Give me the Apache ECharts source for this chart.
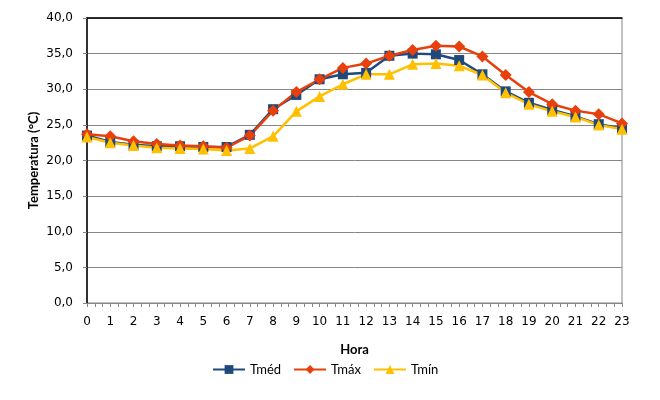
<!DOCTYPE html>
<html lang="pt">
<head>
    <meta charset="UTF-8"/>
    <title>Temperatura horária</title>
    <script src="https://cdn.jsdelivr.net/npm/echarts@6/dist/echarts.min.js"></script>
    <style>
        html, body { margin: 0; padding: 0; background: #fff; }
        #chart { width: 660px; height: 400px; }
    </style>
</head>
<body>
<div id="chart"></div>
<script type="text/javascript">
    // dados (hora 0..23)
    var horas = [0, 1, 2, 3, 4, 5, 6, 7, 8, 9, 10, 11, 12, 13, 14, 15, 16, 17, 18, 19, 20, 21, 22, 23];
    var tmed = [23.5, 22.6, 22.2, 22.0, 22.0, 21.9, 21.9, 23.6, 27.2, 29.2, 31.4, 32.1, 32.3, 34.7, 35.0, 34.9, 34.1, 32.1, 29.7, 28.1, 27.1, 26.2, 25.1, 24.5];
    var tmax = [23.7, 23.4, 22.7, 22.3, 22.1, 22.0, 21.8, 23.5, 27.0, 29.6, 31.4, 33.0, 33.6, 34.7, 35.5, 36.1, 36.0, 34.6, 32.0, 29.6, 27.9, 27.0, 26.5, 25.2];
    var tmin = [23.3, 22.5, 22.1, 21.8, 21.7, 21.6, 21.4, 21.7, 23.4, 26.9, 29.0, 30.7, 32.1, 32.1, 33.5, 33.6, 33.3, 32.0, 29.5, 27.9, 26.9, 26.1, 25.0, 24.4];
    var serieNomes = ['Tméd', 'Tmáx', 'Tmín'];

    function pares(vals) {
        return horas.map(function (h, i) { return [h, vals[i]]; });
    }

    var myChart = echarts.init(document.getElementById('chart'));
    var option = {
        animation: false,
        textStyle: { fontFamily: 'DejaVu Sans' },
        grid: {
            left: 87, right: 38, top: 18, bottom: 97,
            show: true, borderColor: '#868686', borderWidth: 1
        },
        legend: {
            data: serieNomes,
            top: 358,
            left: 207,
            itemWidth: 32,
            itemHeight: 11,
            itemGap: 12,
            textStyle: { fontFamily: 'Lato', fontSize: 13, color: '#000' }
        },
        xAxis: [{
            type: 'value',
            min: 0, max: 23, interval: 1,
            name: 'Hora',
            nameLocation: 'middle',
            nameGap: 40,
            nameTextStyle: { fontFamily: 'Lato', fontWeight: 'bold', fontSize: 13, color: '#000' },
            axisLine: { lineStyle: { color: '#868686', width: 1 } },
            axisTick: { show: true, length: 4, lineStyle: { color: '#868686' } },
            minorTick: { show: true, splitNumber: 3, length: 4, lineStyle: { color: '#868686' } },
            splitLine: { show: false },
            axisLabel: { fontSize: 12, color: '#000', margin: 13 }
        }, {
            type: 'value',
            position: 'top',
            min: 0, max: 23,
            axisLine: { show: true, lineStyle: { color: '#000', width: 1.5 } },
            axisTick: { show: false },
            axisLabel: { show: false },
            splitLine: { show: false }
        }],
        yAxis: {
            type: 'value',
            min: 0, max: 40, interval: 5,
            name: 'Temperatura (°C)',
            nameLocation: 'middle',
            nameGap: 47,
            nameMoveOverlap: false,
            nameTextStyle: { fontFamily: 'Lato', fontWeight: 'bold', fontSize: 13, color: '#000' },
            axisLine: { show: true, lineStyle: { color: '#000', width: 1.5 } },
            axisTick: { show: true, length: 4, lineStyle: { color: '#868686' } },
            splitLine: { lineStyle: { color: '#868686', width: 1 } },
            axisLabel: {
                fontSize: 12, color: '#000', margin: 14,
                formatter: function (v) { return v.toFixed(1).replace('.', ','); }
            }
        },
        series: [{
            name: serieNomes[0],
            type: 'line',
            data: pares(tmed),
            symbol: 'rect',
            symbolSize: 10,
            lineStyle: { color: '#1F497D', width: 2.5 },
            itemStyle: { color: '#1F497D' }
        }, {
            name: serieNomes[1],
            type: 'line',
            data: pares(tmax),
            symbol: 'diamond',
            symbolSize: 12,
            lineStyle: { color: '#E8400C', width: 2.5 },
            itemStyle: { color: '#E8400C' }
        }, {
            name: serieNomes[2],
            type: 'line',
            data: pares(tmin),
            symbol: 'triangle',
            symbolSize: 11,
            lineStyle: { color: '#FFC000', width: 2.5 },
            itemStyle: { color: '#FFC000' }
        }]
    };
    myChart.setOption(option);
</script>
</body>
</html>
